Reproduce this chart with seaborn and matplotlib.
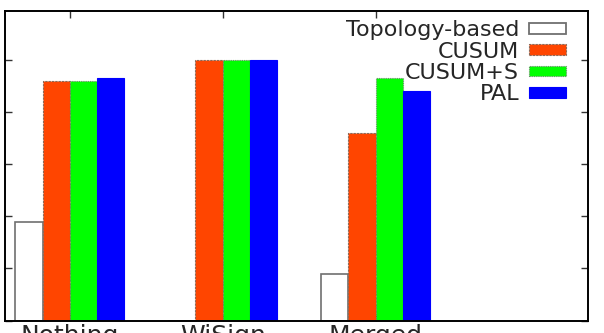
import matplotlib
matplotlib.use("Agg")
import matplotlib.pyplot as plt
import seaborn as sns
import pandas as pd

scenarios = ["Nothing", "WiSign", "Merged"]
methods = ["Topology-based", "CUSUM", "CUSUM+S", "PAL"]
topology = [0.38, 0.0, 0.18]
cusum = [0.92, 1.00, 0.72]
cusum_s = [0.92, 1.00, 0.93]
pal = [0.93, 1.00, 0.88]
yticks = [0.0, 0.2, 0.4, 0.6, 0.8, 1.0]

rows = []
for m, vals in zip(methods, [topology, cusum, cusum_s, pal]):
    for s, v in zip(scenarios, vals):
        rows.append({"Scenario": s, "Method": m, "Value": v})
df = pd.DataFrame(rows)

sns.set_style("ticks")
plt.rcParams["font.family"] = ["DejaVu Sans"]

fig = plt.figure(figsize=(6.04, 3.33), dpi=100)
W, H = 604, 333
ax_l, ax_r, ax_t, ax_b = 4.7, 588, 11, 320.5
ax = fig.add_axes([ax_l / W, 1 - ax_b / H, (ax_r - ax_l) / W, (ax_b - ax_t) / H])

palette = {"Topology-based": "#ffffff", "CUSUM": "#ff4500",
           "CUSUM+S": "#00ff00", "PAL": "#0000ff"}
sns.barplot(data=df, x="Scenario", y="Value", hue="Method", order=scenarios,
            hue_order=methods, palette=palette, width=0.714, saturation=1,
            gap=0, ax=ax, legend=True)

edge_styles = {
    "Topology-based": ("#707070", "-", 1.2),
    "CUSUM": ("#8a6a5a", (0, (2, 1)), 0.8),
    "CUSUM+S": ("#6a8a6a", (0, (1, 1)), 0.8),
    "PAL": ("#0000ff", "-", 0.8),
}
for cont, m in zip(ax.containers, methods):
    ec, ls, lw = edge_styles[m]
    for p in cont:
        p.set_edgecolor(ec)
        p.set_linestyle(ls)
        p.set_linewidth(lw)

ax.set_xlim(-0.426, 3.389)
ax.set_ylim(0, 1.188)
ax.set_yticks(yticks)
ax.set_yticklabels([""] * len(yticks))
ax.set_xlabel("")
ax.set_ylabel("")
ax.tick_params(axis="both", direction="in", length=5, width=1, color="#333333",
               top=True, right=True)
ax.tick_params(axis="x", labelsize=18, pad=2.5)
for s in ax.spines.values():
    s.set_visible(True)
    s.set_linewidth(1.4)
    s.set_color("black")

handles, labels = ax.get_legend_handles_labels()
for h, m in zip(handles, methods):
    ec, ls, lw = edge_styles[m]
    h.set_edgecolor(ec)
    h.set_linestyle(ls)
    h.set_linewidth(1.3 if m == "Topology-based" else lw)
ax.legend(handles, labels, loc="upper right", bbox_to_anchor=(0.962, 0.970),
          frameon=False, markerfirst=False, fontsize=16, handlelength=1.65,
          handleheight=0.36, handletextpad=0.45, labelspacing=0.06,
          borderaxespad=0, borderpad=0)

fig.savefig("out.png", dpi=100)
